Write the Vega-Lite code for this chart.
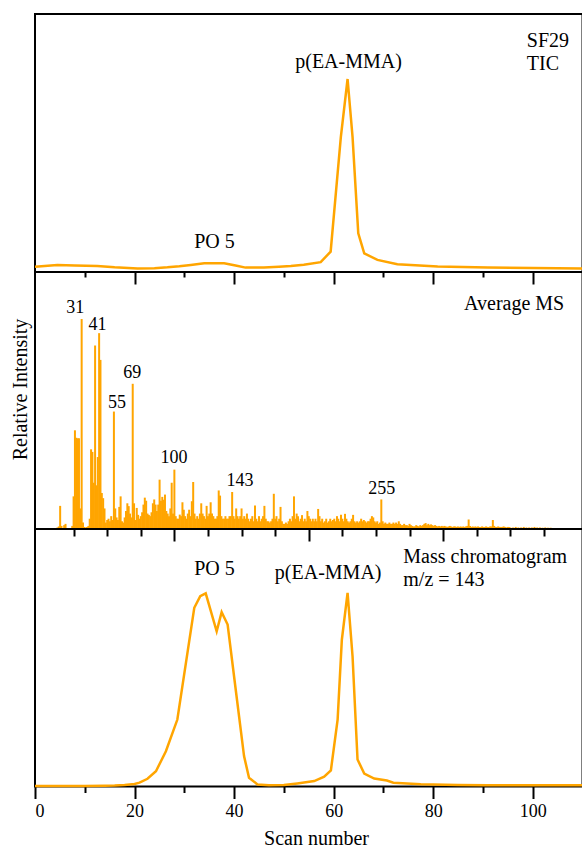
{
  "$schema": "https://vega.github.io/schema/vega-lite/v6.json",
  "background": "white",
  "autosize": {"type": "pad"},
  "padding": {"left": 9, "top": 13, "right": 0, "bottom": 0},
  "bounds": "flush",
  "spacing": 0,
  "config": {
    "font": "Liberation Serif",
    "view": {"stroke": "black", "strokeWidth": 2},
    "axis": {"grid": false, "domain": false, "tickColor": "black", "tickWidth": 2, "labelColor": "black", "titleColor": "black", "titleFontWeight": "normal", "labelFont": "Liberation Serif", "titleFont": "Liberation Serif"},
    "text": {"font": "Liberation Serif", "fontSize": 20, "color": "black", "baseline": "alphabetic"}
  },
  "datasets": {
    "tic": [
      {"s":0,"v":2.0},{"s":4.5,"v":2.7},{"s":8,"v":2.5},{"s":12.5,"v":2.3},{"s":16,"v":1.8},{"s":20.6,"v":1.4},{"s":24,"v":1.5},{"s":26.6,"v":1.8},{"s":29,"v":2.2},{"s":31.3,"v":2.7},{"s":34,"v":3.4},{"s":38,"v":3.4},{"s":40.3,"v":2.5},{"s":42.3,"v":1.7},{"s":46,"v":1.7},{"s":49,"v":2.0},{"s":51.4,"v":2.3},{"s":54,"v":2.8},{"s":57.4,"v":3.8},{"s":59.4,"v":7.9},{"s":61.45,"v":52.4},{"s":62.8,"v":74.8},{"s":63.8,"v":52.4},{"s":64.95,"v":15},{"s":66.15,"v":7.2},{"s":68.8,"v":4.7},{"s":72.8,"v":3.0},{"s":80.9,"v":2.1},{"s":91,"v":1.7},{"s":110,"v":1.4}
    ],
    "mc": [
      {"s":0,"v":0.2},{"s":10,"v":0.2},{"s":14,"v":0.3},{"s":16,"v":0.4},{"s":18,"v":0.6},{"s":20,"v":1.0},{"s":21,"v":1.5},{"s":22.6,"v":3.0},{"s":24.3,"v":5.9},{"s":26.3,"v":13.7},{"s":28.6,"v":26},{"s":32.0,"v":69.4},{"s":33.2,"v":73.9},{"s":34.3,"v":75},{"s":36.5,"v":60.3},{"s":37.5,"v":67.7},{"s":38.7,"v":62.9},{"s":40.4,"v":36.5},{"s":42.0,"v":11.8},{"s":43.0,"v":3.4},{"s":44.7,"v":0.8},{"s":47,"v":0.5},{"s":50,"v":0.6},{"s":52.7,"v":1.2},{"s":56.1,"v":2.1},{"s":58.1,"v":3.8},{"s":59.45,"v":6.3},{"s":60.8,"v":26},{"s":61.65,"v":57},{"s":62.8,"v":75.2},{"s":63.8,"v":50.6},{"s":64.8,"v":10.5},{"s":66.15,"v":5.0},{"s":68.15,"v":3.1},{"s":70.7,"v":2.3},{"s":72,"v":1.5},{"s":77.5,"v":0.9},{"s":85,"v":0.6},{"s":91,"v":0.5},{"s":110,"v":0.5}
    ],
    "ms": [
      {"m":12,"v":0.4},{"m":13,"v":0.6},{"m":14,"v":1},{"m":15,"v":9},{"m":16,"v":1.2},{"m":17,"v":0.4},{"m":18,"v":1.5},{"m":19,"v":2},{"m":20,"v":0.4},{"m":21,"v":0.3},{"m":22,"v":0.3},{"m":23,"v":0.4},{"m":24,"v":1.2},{"m":25,"v":12.7},{"m":26,"v":38.4},{"m":27,"v":35.5},{"m":28,"v":35.3},{"m":29,"v":35.3},{"m":30,"v":8},{"m":31,"v":81.7},{"m":32,"v":2.5},{"m":33,"v":0.8},{"m":34,"v":0.6},{"m":35,"v":0.8},{"m":36,"v":1.2},{"m":37,"v":4},{"m":38,"v":31},{"m":39,"v":30},{"m":40,"v":18},{"m":41,"v":71.4},{"m":42,"v":17},{"m":43,"v":28},{"m":44,"v":76.2},{"m":45,"v":65.8},{"m":46,"v":14},{"m":47,"v":12},{"m":48,"v":8},{"m":49,"v":2.5},{"m":50,"v":3.5},{"m":51,"v":4},{"m":52,"v":3},{"m":53,"v":5},{"m":54,"v":3.5},{"m":55,"v":45.7},{"m":56,"v":8},{"m":57,"v":4.5},{"m":58,"v":3.5},{"m":59,"v":8.6},{"m":60,"v":12.7},{"m":61,"v":3},{"m":62,"v":2.5},{"m":63,"v":4.5},{"m":64,"v":7},{"m":65,"v":10},{"m":66,"v":8.9},{"m":67,"v":6},{"m":68,"v":4.5},{"m":69,"v":56.5},{"m":70,"v":10},{"m":71,"v":3.5},{"m":72,"v":8.2},{"m":73,"v":5.5},{"m":74,"v":4},{"m":75,"v":5},{"m":76,"v":6.5},{"m":77,"v":9.5},{"m":78,"v":12.2},{"m":79,"v":11},{"m":80,"v":6},{"m":81,"v":5.5},{"m":82,"v":5},{"m":83,"v":6.5},{"m":84,"v":10},{"m":85,"v":11.5},{"m":86,"v":9.5},{"m":87,"v":7},{"m":88,"v":9.5},{"m":89,"v":19.2},{"m":90,"v":11},{"m":91,"v":12.5},{"m":92,"v":11.4},{"m":93,"v":13.4},{"m":94,"v":7},{"m":95,"v":6},{"m":96,"v":5},{"m":97,"v":8},{"m":98,"v":18},{"m":99,"v":6},{"m":100,"v":23.1},{"m":101,"v":5},{"m":102,"v":4},{"m":103,"v":4},{"m":104,"v":5.6},{"m":105,"v":5},{"m":106,"v":10.4},{"m":107,"v":7.5},{"m":108,"v":5},{"m":109,"v":4},{"m":110,"v":6},{"m":111,"v":7.5},{"m":112,"v":5},{"m":113,"v":10.8},{"m":114,"v":18.3},{"m":115,"v":6},{"m":116,"v":4},{"m":117,"v":5},{"m":118,"v":4},{"m":119,"v":6},{"m":120,"v":10},{"m":121,"v":6},{"m":122,"v":5},{"m":123,"v":4},{"m":124,"v":9},{"m":125,"v":5},{"m":126,"v":6},{"m":127,"v":10.4},{"m":128,"v":6},{"m":129,"v":5},{"m":130,"v":4},{"m":131,"v":4},{"m":132,"v":5},{"m":133,"v":15},{"m":134,"v":13},{"m":135,"v":5},{"m":136,"v":4},{"m":137,"v":4},{"m":138,"v":5},{"m":139,"v":4},{"m":140,"v":4},{"m":141,"v":5},{"m":142,"v":5},{"m":143,"v":14.4},{"m":144,"v":5},{"m":145,"v":4},{"m":146,"v":8},{"m":147,"v":5},{"m":148,"v":4},{"m":149,"v":5},{"m":150,"v":8},{"m":151,"v":4},{"m":152,"v":5},{"m":153,"v":4},{"m":154,"v":6},{"m":155,"v":4},{"m":156,"v":3},{"m":157,"v":4},{"m":158,"v":5},{"m":159,"v":3},{"m":160,"v":9.1},{"m":161,"v":4},{"m":162,"v":3},{"m":163,"v":5},{"m":164,"v":3},{"m":165,"v":4},{"m":166,"v":5},{"m":167,"v":9},{"m":168,"v":4},{"m":169,"v":3},{"m":170,"v":3},{"m":171,"v":2.5},{"m":172,"v":3},{"m":173,"v":4},{"m":174,"v":13.7},{"m":175,"v":4},{"m":176,"v":5},{"m":177,"v":3},{"m":178,"v":4},{"m":179,"v":8.6},{"m":180,"v":3},{"m":181,"v":2},{"m":182,"v":2},{"m":183,"v":2.5},{"m":184,"v":2},{"m":185,"v":3},{"m":186,"v":4},{"m":187,"v":3},{"m":188,"v":5},{"m":189,"v":12.7},{"m":190,"v":4},{"m":191,"v":6},{"m":192,"v":5},{"m":193,"v":3},{"m":194,"v":4},{"m":195,"v":5.4},{"m":196,"v":3},{"m":197,"v":4},{"m":198,"v":3},{"m":199,"v":7},{"m":200,"v":5},{"m":201,"v":4},{"m":202,"v":3},{"m":203,"v":4},{"m":204,"v":3},{"m":205,"v":4},{"m":206,"v":3},{"m":207,"v":7.8},{"m":208,"v":5},{"m":209,"v":3},{"m":210,"v":4},{"m":211,"v":2.5},{"m":212,"v":3},{"m":213,"v":4},{"m":214,"v":2.5},{"m":215,"v":3},{"m":216,"v":4},{"m":217,"v":3},{"m":218,"v":3.5},{"m":219,"v":4},{"m":220,"v":3},{"m":221,"v":5},{"m":222,"v":4},{"m":223,"v":3},{"m":224,"v":5.5},{"m":225,"v":4},{"m":226,"v":3},{"m":227,"v":5.9},{"m":228,"v":4},{"m":229,"v":3},{"m":230,"v":2.5},{"m":231,"v":3},{"m":232,"v":4},{"m":233,"v":5.5},{"m":234,"v":3},{"m":235,"v":2.5},{"m":236,"v":3},{"m":237,"v":2.5},{"m":238,"v":3},{"m":239,"v":4},{"m":240,"v":3},{"m":241,"v":3.5},{"m":242,"v":3},{"m":243,"v":2.5},{"m":244,"v":3},{"m":245,"v":3},{"m":246,"v":4},{"m":247,"v":5},{"m":248,"v":4.5},{"m":249,"v":3},{"m":250,"v":2.5},{"m":251,"v":3},{"m":252,"v":2},{"m":253,"v":2.5},{"m":254,"v":11.5},{"m":255,"v":3},{"m":256,"v":2},{"m":257,"v":2.5},{"m":258,"v":2},{"m":259,"v":2},{"m":260,"v":2.5},{"m":261,"v":2},{"m":262,"v":2},{"m":263,"v":2.5},{"m":264,"v":2},{"m":265,"v":2.5},{"m":266,"v":2},{"m":267,"v":3},{"m":268,"v":2},{"m":269,"v":1.5},{"m":270,"v":1.5},{"m":271,"v":2},{"m":272,"v":1.5},{"m":273,"v":1.5},{"m":274,"v":1.2},{"m":275,"v":2},{"m":276,"v":1.5},{"m":277,"v":1.2},{"m":278,"v":1},{"m":279,"v":1},{"m":280,"v":1.5},{"m":281,"v":1.2},{"m":282,"v":1},{"m":283,"v":1.5},{"m":284,"v":1.2},{"m":285,"v":1.5},{"m":286,"v":2},{"m":287,"v":2.3},{"m":288,"v":1.5},{"m":289,"v":2},{"m":290,"v":1.5},{"m":291,"v":1.8},{"m":292,"v":1.5},{"m":293,"v":1.2},{"m":294,"v":1.5},{"m":295,"v":1.2},{"m":296,"v":1},{"m":297,"v":1.2},{"m":298,"v":1},{"m":299,"v":1.2},{"m":300,"v":1},{"m":301,"v":1.2},{"m":302,"v":1},{"m":303,"v":0.8},{"m":304,"v":1},{"m":305,"v":1.2},{"m":306,"v":1},{"m":307,"v":0.8},{"m":308,"v":1},{"m":309,"v":1},{"m":310,"v":0.8},{"m":311,"v":1},{"m":312,"v":0.8},{"m":313,"v":1},{"m":314,"v":0.8},{"m":315,"v":1},{"m":316,"v":0.8},{"m":317,"v":1},{"m":318,"v":1.2},{"m":319,"v":3.7},{"m":320,"v":1.2},{"m":321,"v":0.8},{"m":322,"v":1},{"m":323,"v":0.8},{"m":324,"v":1},{"m":325,"v":0.8},{"m":326,"v":1},{"m":327,"v":0.8},{"m":328,"v":0.8},{"m":329,"v":1},{"m":330,"v":0.8},{"m":331,"v":0.8},{"m":332,"v":1},{"m":333,"v":0.8},{"m":334,"v":0.8},{"m":335,"v":1},{"m":336,"v":1},{"m":337,"v":3.5},{"m":338,"v":1.2},{"m":339,"v":0.8},{"m":340,"v":0.8},{"m":341,"v":1},{"m":342,"v":0.8},{"m":343,"v":0.8},{"m":344,"v":0.8},{"m":345,"v":1},{"m":346,"v":0.8},{"m":347,"v":0.6},{"m":348,"v":0.8},{"m":349,"v":0.8},{"m":350,"v":0.6},{"m":352,"v":0.6},{"m":354,"v":0.8},{"m":356,"v":0.6},{"m":358,"v":0.6},{"m":360,"v":0.8},{"m":362,"v":0.6},{"m":364,"v":0.6},{"m":366,"v":0.6},{"m":368,"v":0.8},{"m":370,"v":0.6},{"m":372,"v":0.6},{"m":374,"v":0.5},{"m":376,"v":0.6},{"m":378,"v":0.5},{"m":380,"v":0.5},{"m":384,"v":0.4},{"m":388,"v":0.4},{"m":392,"v":0.4},{"m":396,"v":0.3}
    ],
    "t1": [
      {"x":36.05,"y":9.3,"t":"PO 5","a":"c"},
      {"x":63.0,"y":79.1,"t":"p(EA-MMA)","a":"c"},
      {"x":98.8,"y":87.4,"t":"SF29","a":"l"},
      {"x":98.8,"y":78.4,"t":"TIC","a":"l"}
    ],
    "t2": [
      {"x":26.3,"y":84,"t":"31","a":"c"},
      {"x":42.8,"y":77.5,"t":"41","a":"c"},
      {"x":57.3,"y":47.1,"t":"55","a":"c"},
      {"x":68.6,"y":58.7,"t":"69","a":"c"},
      {"x":99.8,"y":25.7,"t":"100","a":"c"},
      {"x":148.9,"y":16.9,"t":"143","a":"c"},
      {"x":254.3,"y":13.8,"t":"255","a":"c"},
      {"x":315.6,"y":85.2,"t":"Average MS","a":"l"}
    ],
    "t3": [
      {"x":36.05,"y":82.1,"t":"PO 5","a":"c"},
      {"x":58.9,"y":80.7,"t":"p(EA-MMA)","a":"c"},
      {"x":74.0,"y":86.9,"t":"Mass chromatogram","a":"l"},
      {"x":74.0,"y":77.8,"t":"m/z = 143","a":"l"}
    ]
  },
  "vconcat": [
    {
      "width": 547.5,
      "height": 258,
      "resolve": {"axis": {"x": "independent", "y": "independent"}},
      "layer": [
        {
          "data": {"name": "tic"},
          "mark": {"type": "line", "color": "#FFA500", "strokeWidth": 2.5},
          "encoding": {
            "x": {"field": "s", "type": "quantitative", "scale": {"domain": [0, 110], "nice": false, "zero": false},
                  "axis": {"orient": "bottom", "values": [20,40,60,80,100], "labels": false, "title": null, "tickSize": 12}},
            "y": {"field": "v", "type": "quantitative", "scale": {"domain": [0, 100]}, "axis": null}
          }
        },
        {
          "data": {"name": "t1"},
          "transform": [{"filter": "datum.a === 'c'"}],
          "mark": {"type": "text", "align": "center"},
          "encoding": {
            "x": {"field": "x", "type": "quantitative", "axis": {"orient": "bottom", "values": [10,30,50,70,90,110], "labels": false, "title": null, "tickSize": 5}},
            "y": {"field": "y", "type": "quantitative", "axis": null},
            "text": {"field": "t"}
          }
        },
        {
          "data": {"name": "t1"},
          "transform": [{"filter": "datum.a === 'l'"}],
          "mark": {"type": "text", "align": "left"},
          "encoding": {
            "x": {"field": "x", "type": "quantitative", "axis": null},
            "y": {"field": "y", "type": "quantitative", "axis": null},
            "text": {"field": "t"}
          }
        }
      ]
    },
    {
      "width": 547.5,
      "height": 257,
      "resolve": {"axis": {"x": "independent", "y": "independent"}},
      "layer": [
        {
          "data": {"name": "ms"},
          "mark": {"type": "bar", "color": "#FFA500", "width": 2},
          "encoding": {
            "x": {"field": "m", "type": "quantitative", "scale": {"domain": [0, 400], "nice": false, "zero": false},
                  "axis": {"orient": "bottom", "values": [100,200,300], "labels": false, "title": null, "tickSize": 12}},
            "y": {"field": "v", "type": "quantitative", "scale": {"domain": [0, 100]},
                  "axis": {"orient": "left", "title": "Relative Intensity", "labels": false, "ticks": false, "titleFontSize": 20, "titlePadding": 5, "titleY": 117}}
          }
        },
        {
          "data": {"name": "t2"},
          "transform": [{"filter": "datum.a === 'c'"}],
          "mark": {"type": "text", "align": "center", "fontSize": 18},
          "encoding": {
            "x": {"field": "x", "type": "quantitative", "axis": {"orient": "bottom", "values": [25,50,75,125,150,175,225,250,275,325,350,375], "labels": false, "title": null, "tickSize": 7}},
            "y": {"field": "y", "type": "quantitative", "axis": null},
            "text": {"field": "t"}
          }
        },
        {
          "data": {"name": "t2"},
          "transform": [{"filter": "datum.a === 'l'"}],
          "mark": {"type": "text", "align": "left"},
          "encoding": {
            "x": {"field": "x", "type": "quantitative", "axis": null},
            "y": {"field": "y", "type": "quantitative", "axis": null},
            "text": {"field": "t"}
          }
        }
      ]
    },
    {
      "width": 547.5,
      "height": 257.5,
      "resolve": {"axis": {"x": "independent", "y": "independent"}},
      "layer": [
        {
          "data": {"name": "mc"},
          "mark": {"type": "line", "color": "#FFA500", "strokeWidth": 2.5},
          "encoding": {
            "x": {"field": "s", "type": "quantitative", "scale": {"domain": [0, 110], "nice": false, "zero": false},
                  "axis": {"orient": "bottom", "values": [0,20,40,60,80,100], "title": "Scan number",
                           "labelFontSize": 18, "labelPadding": 4, "titleFontSize": 20, "titlePadding": 8, "titleX": 281, "tickSize": 12}},
            "y": {"field": "v", "type": "quantitative", "scale": {"domain": [0, 100]}, "axis": null}
          }
        },
        {
          "data": {"name": "t3"},
          "transform": [{"filter": "datum.a === 'c'"}],
          "mark": {"type": "text", "align": "center"},
          "encoding": {
            "x": {"field": "x", "type": "quantitative", "axis": {"orient": "bottom", "values": [10,30,50,70,90,110], "labels": false, "title": null, "tickSize": 6}},
            "y": {"field": "y", "type": "quantitative", "axis": null},
            "text": {"field": "t"}
          }
        },
        {
          "data": {"name": "t3"},
          "transform": [{"filter": "datum.a === 'l'"}],
          "mark": {"type": "text", "align": "left"},
          "encoding": {
            "x": {"field": "x", "type": "quantitative", "axis": null},
            "y": {"field": "y", "type": "quantitative", "axis": null},
            "text": {"field": "t"}
          }
        }
      ]
    }
  ]
}
